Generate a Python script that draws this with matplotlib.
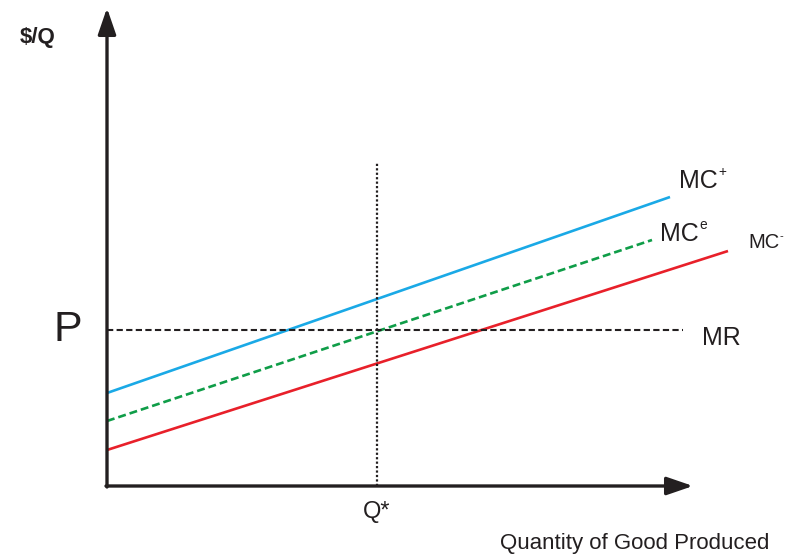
import matplotlib.pyplot as plt
import numpy as np

plt.rcParams['font.family'] = ['Liberation Sans', 'DejaVu Sans']

# Quantity and price values (arbitrary units, origin at axes corner)
q_start = [0, 0, 0]
q_end = [563, 545, 621]
mc_start = [93, 65, 36]      # MC+, MCe, MC-
mc_end = [289, 246, 235]
mc_sup = ['+', 'e', '-']
mc_colors = ['#1aa9e6', '#0f9d48', '#e8202a']
mc_styles = ['-', (0, (3, 1.5)), '-']

price = 156
mr_end = 576
q_star = 270
q_star_top = 323

fig = plt.figure(figsize=(7.9, 5.57), dpi=100)
ax = fig.add_axes([0, 0, 1, 1])
ax.set_xlim(-107, 683)
ax.set_ylim(-71, 486)
ax.axis('off')

# axes with arrows
ax.annotate('', xy=(0, 478), xytext=(0, -1),
            arrowprops=dict(arrowstyle='-|>,head_length=1.6,head_width=0.55',
                            lw=2.4, color='#231f20', shrinkA=0, shrinkB=0))
ax.annotate('', xy=(586, 0), xytext=(-1, 0),
            arrowprops=dict(arrowstyle='-|>,head_length=1.6,head_width=0.55',
                            lw=2.4, color='#231f20', shrinkA=0, shrinkB=0))

# marginal cost curves
for i in range(3):
    ax.plot([q_start[i], q_end[i]], [mc_start[i], mc_end[i]],
            color=mc_colors[i], lw=1.9, linestyle=mc_styles[i],
            solid_capstyle='butt')

# marginal revenue (price) line
ax.plot([0, mr_end], [price, price], color='#231f20', lw=1.5,
        linestyle=(0, (3, 1.6)))
# Q* line
ax.plot([q_star, q_star], [0, q_star_top], color='#231f20', lw=1.6,
        linestyle=(0, (1, 1)))

# labels
txt = '#231f20'
ax.text(-69, 448, '$/Q', fontsize=16, fontweight='bold', color=txt,
        ha='center', va='center')
ax.text(-39, 156, 'P', fontsize=31, color=txt, ha='center', va='center')

# MC labels with small superscripts
label_pos = [(572, 305, 18), (553, 252, 18), (641, 243, 14.5)]
for (x, y, fs), sup in zip(label_pos, mc_sup):
    t = ax.text(x, y, 'MC', fontsize=fs, color=txt, ha='left', va='center')
    ax.annotate(sup, xy=(1.0, 0.88), xycoords=t, xytext=(0.5, 0),
                textcoords='offset points', fontsize=fs * 0.55, color=txt,
                ha='left', va='center')

ax.text(595, 148, 'MR', fontsize=18, color=txt, ha='left', va='center')
ax.text(270, -26, 'Q*', fontsize=17, color=txt, ha='center', va='center')
ax.text(528, -58, 'Quantity of Good Produced', fontsize=16, color=txt,
        ha='center', va='center')

fig.savefig('out.png', dpi=100)
